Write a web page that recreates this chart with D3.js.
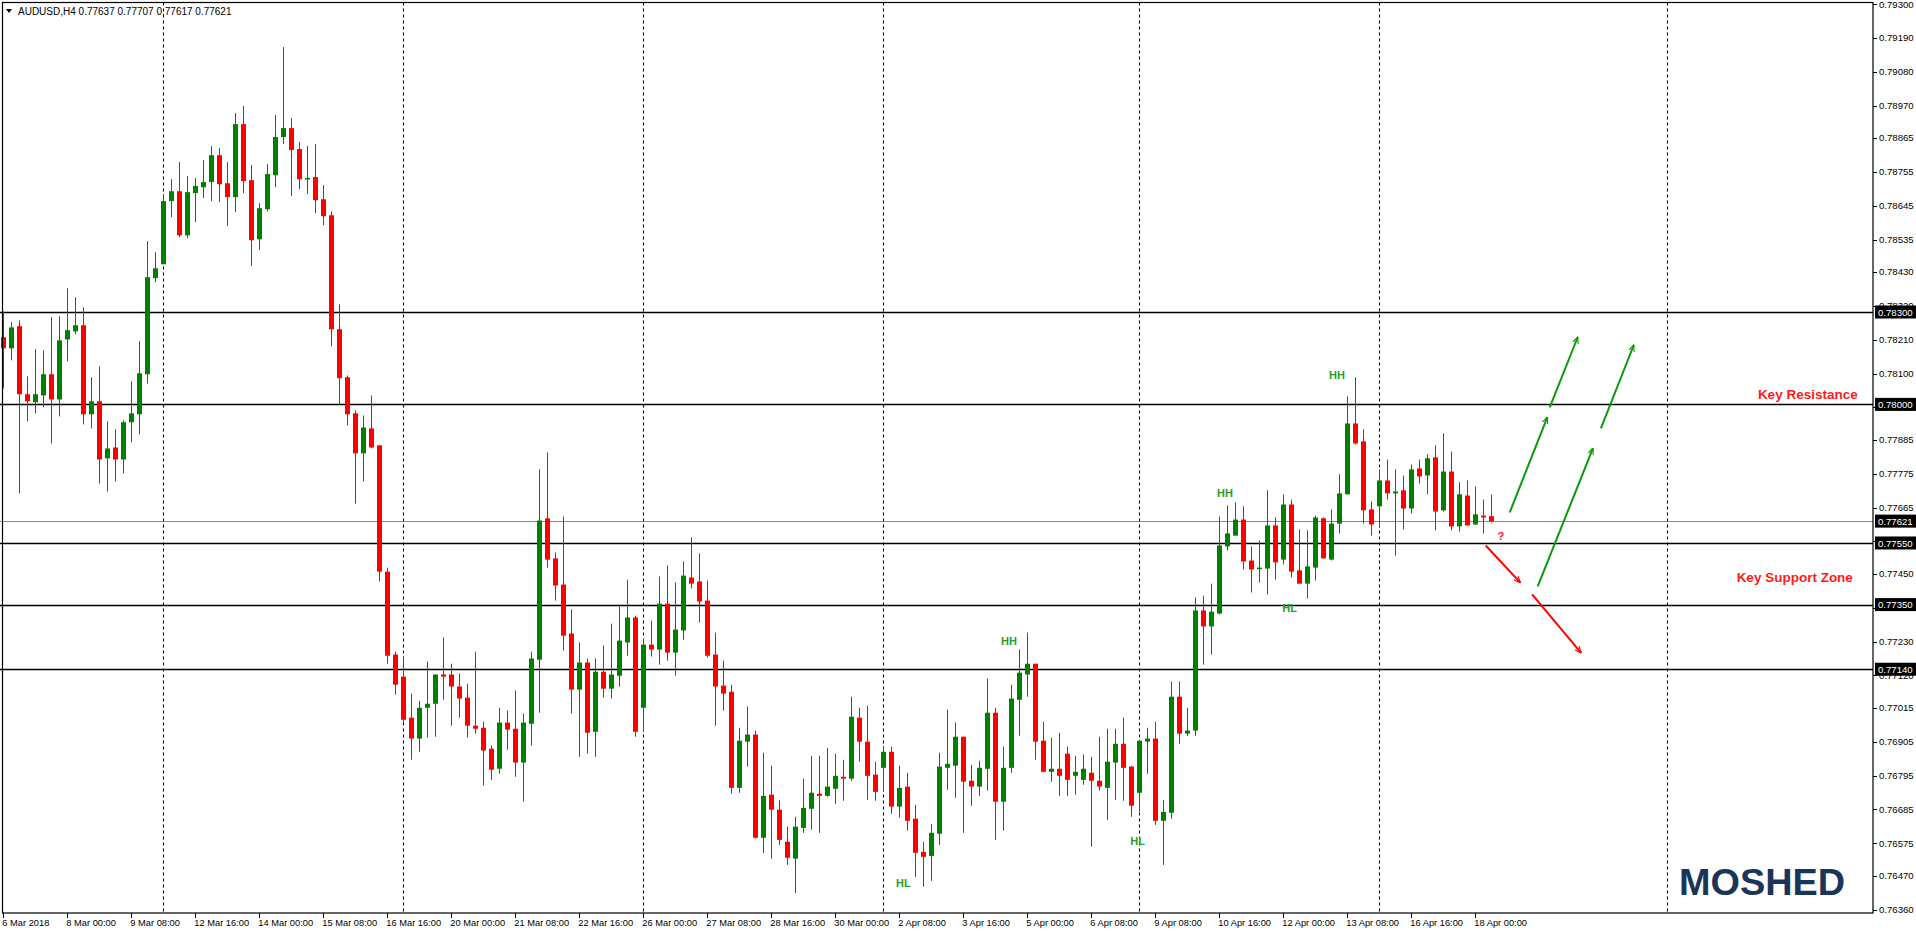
<!DOCTYPE html>
<html><head><meta charset="utf-8">
<script src="https://cdn.jsdelivr.net/npm/d3@7"></script>
<style>html,body{margin:0;padding:0;background:#fff;overflow:hidden}svg{display:block}</style>
</head><body><svg id="c" width="1916" height="934"></svg>
<script>
// prices in points (x 0.00001)
const openPts=[78218,78182,78254,78033,78007,78029,78098,78016,78211,78237,78257,77968,78010,77825,77860,77821,77942,77968,78098,78410,78455,78660,78692,78549,78686,78705,78722,78809,78718,78673,78910,78728,78536,78634,78744,78868,78897,78829,78731,78738,78666,78614,78244,78088,77971,77841,77922,77867,77457,77188,77116,76983,76915,77015,77028,77123,77123,77084,77048,76957,76950,76882,76817,76967,76947,76837,76963,77171,77630,77500,77415,77256,77074,77162,76937,77132,77077,77119,77227,77308,77015,77220,77204,77353,77194,77266,77438,77425,77363,77188,77087,77067,76755,76905,76928,76593,76733,76684,76580,76525,76625,76687,76736,76729,76752,76791,76785,76983,76905,76798,76820,76872,76694,76759,76655,76547,76534,76606,76820,76827,76921,76778,76759,76817,76999,76710,76820,77041,77123,77158,76908,76807,76817,76866,76794,76781,76804,76778,76755,76837,76898,76824,76739,76905,76915,76648,76674,77051,76931,76941,77331,77279,77321,77539,77574,77626,77493,77467,77467,77607,77496,77675,77461,77418,77470,77630,77496,77613,77708,77938,77880,77659,77669,77753,77711,77721,77662,77792,77769,77828,77656,77782,77604,77704,77610,77639,77637];
const highPts=[78302,78267,78273,78091,78179,78176,78283,78286,78377,78348,78315,78088,78124,77945,77919,77948,78075,78205,78530,78494,78683,78731,78787,78741,78735,78793,78839,78832,78787,78946,78969,78777,78653,78780,78939,79160,78930,78852,78839,78845,78712,78627,78325,78094,77981,77964,78029,77867,77470,77197,77184,77061,77038,77165,77123,77243,77158,77126,77093,77197,76970,76892,77015,77006,77071,76996,77197,77789,77844,77519,77636,77334,77227,77175,77175,77217,77288,77350,77431,77314,77240,77298,77441,77477,77422,77490,77568,77516,77428,77259,77168,77090,76950,77019,76941,76869,76827,76716,76629,76661,76785,76859,76859,76885,76866,76846,77051,77015,77022,76840,76892,76889,76827,76804,76700,76580,76638,76869,77009,76967,76921,76830,76843,77110,77015,76889,77090,77204,77259,77158,76970,76918,76934,76889,76859,76863,76856,76921,76947,76947,76983,76827,76911,76950,76970,76716,77100,77100,77015,77373,77379,77418,77636,77672,77682,77669,77539,77558,77721,77633,77708,77691,77594,77591,77639,77633,77659,77773,78026,78088,77919,77685,77789,77821,77789,77769,77805,77821,77838,77867,77906,77847,77747,77753,77734,77691,77707];
const lowPts=[78052,78143,77711,77945,77971,77990,77873,77961,78140,78228,77935,77922,77743,77717,77750,77776,77877,77903,78068,78397,78455,78608,78543,78540,78592,78670,78660,78657,78579,78624,78686,78449,78501,78627,78705,78845,78676,78699,78683,78621,78582,78189,78000,77932,77678,77750,77857,77425,77158,77058,76967,76846,76872,76918,76921,77041,76957,76983,76918,76931,76762,76781,76801,76879,76791,76710,76892,76999,77470,77363,77201,76996,76856,76866,76856,77048,77045,77084,77184,76921,76937,77181,77155,77168,77119,77236,77402,77292,77178,76957,77006,76736,76739,76824,76590,76544,76525,76570,76505,76414,76609,76619,76609,76726,76703,76713,76778,76840,76716,76713,76742,76671,76658,76616,76466,76434,76453,76570,76749,76723,76609,76697,76729,76746,76586,76616,76804,76924,77051,76846,76807,76775,76729,76729,76733,76765,76564,76746,76651,76716,76713,76661,76677,76801,76635,76505,76655,76898,76924,76924,77155,77188,77318,77526,77574,77464,77389,77422,77383,77431,77480,77438,77418,77370,77428,77500,77493,77581,77708,77870,77613,77574,77600,77691,77509,77594,77646,77743,77708,77591,77652,77591,77587,77607,77610,77581,77617];
const closePts=[78182,78250,78033,78010,78033,78098,78016,78208,78241,78257,77968,78010,77821,77857,77821,77942,77971,78101,78413,78442,78660,78692,78549,78689,78709,78722,78809,78715,78673,78910,78725,78533,78637,78748,78868,78897,78826,78731,78735,78663,78611,78244,78085,77968,77841,77925,77860,77457,77184,77090,76976,76915,77015,77028,77123,77116,77084,77045,76957,76947,76876,76814,76967,76944,76837,76967,77175,77623,77496,77412,77249,77074,77162,76934,77132,77077,77123,77233,77308,76937,77220,77204,77353,77194,77269,77444,77418,77360,77184,77084,77061,76755,76908,76928,76593,76729,76684,76586,76528,76629,76690,76739,76729,76759,76794,76785,76986,76905,76794,76742,76872,76694,76755,76648,76544,76531,76609,76824,76833,76921,76775,76759,76820,76999,76710,76820,77045,77129,77158,76905,76807,76817,76794,76781,76807,76817,76778,76759,76840,76898,76820,76697,76908,76915,76648,76677,77051,76931,76941,77331,77279,77327,77542,77581,77626,77490,77464,77470,77607,77487,77675,77457,77418,77474,77633,77500,77613,77711,77938,77873,77656,77610,77753,77711,77717,77662,77789,77766,77825,77652,77782,77604,77708,77607,77643,77633,77621];

const priceTicks=["0.79300","0.79190","0.79080","0.78970","0.78865","0.78755","0.78645","0.78535","0.78430","0.78320","0.78210","0.78100","0.77990","0.77885","0.77775","0.77665","0.77555","0.77450","0.77340","0.77230","0.77120","0.77015","0.76905","0.76795","0.76685","0.76575","0.76470","0.76360"];
const timeLabels=["6 Mar 2018","8 Mar 00:00","9 Mar 08:00","12 Mar 16:00","14 Mar 00:00","15 Mar 08:00","16 Mar 16:00","20 Mar 00:00","21 Mar 08:00","22 Mar 16:00","26 Mar 00:00","27 Mar 08:00","28 Mar 16:00","30 Mar 00:00","2 Apr 08:00","3 Apr 16:00","5 Apr 00:00","6 Apr 08:00","9 Apr 08:00","10 Apr 16:00","12 Apr 00:00","13 Apr 08:00","16 Apr 16:00","18 Apr 00:00"];
const timeLabelBar=[0,8,16,24,32,40,48,56,64,72,80,88,96,104,112,120,128,136,144,152,160,168,176,184];
const gridBars=[20,50,80,110,142,172,208];
const levelLines=[0.78300,0.78000,0.77550,0.77350,0.77140];
const currentPrice=0.77621;
const header="AUDUSD,H4  0.77637 0.77707 0.77617 0.77621";
const swingLabels=[{t:"HH",bar:125.7,p:0.77233},{t:"HH",bar:152.7,p:0.77711},{t:"HH",bar:166.7,p:0.78094},{t:"HL",bar:112.5,p:0.76447},{t:"HL",bar:141.8,p:0.76583},{t:"HL",bar:160.8,p:0.77340}];
const greenArrows=[[188.3,0.77649,193.0,0.77958],[193.3,0.77990,196.8,0.78218],[191.8,0.77409,198.7,0.77857],[199.7,0.77922,203.8,0.78192]];
const redArrows=[[185.3,0.77542,189.6,0.77422],[191.1,0.77383,197.2,0.77194]];
const zoneTexts=[{t:"Key Resistance",bar:231.8,p:0.78016},{t:"Key Support Zone",bar:231.2,p:0.77422}];

const svg=d3.select("#c");
const L=2.5,R=1873,T=2.5,B=913;
const x=d3.scaleLinear().domain([0,233.5]).range([3.3,1871.3]);
const y=d3.scaleLinear().domain([0.76360,0.79300]).range([909.5,4]);
const FONT="'Liberation Sans',Arial,sans-serif";
const bars=openPts.map((o,i)=>({o:o/1e5,h:highPts[i]/1e5,l:lowPts[i]/1e5,c:closePts[i]/1e5,i}));

const defs=svg.append("defs");
["g","r"].forEach(k=>{
  defs.append("marker").attr("id","m"+k).attr("viewBox","0 0 10 10").attr("refX",9).attr("refY",5)
   .attr("markerWidth",7).attr("markerHeight",7).attr("markerUnits","userSpaceOnUse").attr("orient","auto")
   .append("path").attr("d","M0,1 L10,5 L0,9").attr("fill","none").attr("stroke",k=="g"?"#0a9a0a":"#ff0000").attr("stroke-width",1.6);
});

// grid
svg.append("g").selectAll("line").data(gridBars).join("line")
 .attr("x1",d=>Math.round(x(d))+0.5).attr("x2",d=>Math.round(x(d))+0.5).attr("y1",T).attr("y2",B)
 .attr("stroke","#000").attr("stroke-dasharray","3,3");
// level lines
svg.append("g").selectAll("line").data(levelLines).join("line")
 .attr("x1",0).attr("x2",R).attr("y1",d=>Math.round(y(d))+0.5).attr("y2",d=>Math.round(y(d))+0.5)
 .attr("stroke","#000").attr("stroke-width",1.3);
svg.append("line").attr("x1",0).attr("x2",R).attr("y1",Math.round(y(currentPrice))+0.5).attr("y2",Math.round(y(currentPrice))+0.5).attr("stroke","#7a8a9a");

// candles
const cg=svg.append("g");
cg.selectAll("line").data(bars).join("line")
 .attr("x1",d=>Math.round(x(d.i))+0.5).attr("x2",d=>Math.round(x(d.i))+0.5)
 .attr("y1",d=>y(d.h)).attr("y2",d=>y(d.l))
 .attr("stroke",d=>d.c>=d.o?"#008000":"#ff0000").attr("stroke-width",1);
cg.selectAll("rect").data(bars).join("rect")
 .attr("x",d=>Math.round(x(d.i))-2).attr("width",5)
 .attr("y",d=>y(Math.max(d.o,d.c))).attr("height",d=>Math.max(1.5,Math.abs(y(d.o)-y(d.c))))
 .attr("fill",d=>d.c>=d.o?"#008000":"#ff0000");

// frame
svg.append("rect").attr("x",L).attr("y",T).attr("width",R-L).attr("height",B-T).attr("fill","none").attr("stroke","#000").attr("stroke-width",1.2);

// right axis
const ra=svg.append("g");
ra.selectAll("line").data(priceTicks).join("line").attr("x1",R).attr("x2",R+4)
 .attr("y1",d=>Math.round(y(+d))+0.5).attr("y2",d=>Math.round(y(+d))+0.5).attr("stroke","#000");
ra.selectAll("text").data(priceTicks).join("text").attr("x",R+6).attr("y",d=>y(+d)+3.5)
 .attr("font-family",FONT).attr("font-size",9.6).attr("fill","#000").text(d=>d);
const boxes=levelLines.concat([currentPrice]);
const bg=svg.append("g");
bg.selectAll("rect").data(boxes).join("rect").attr("x",R+2).attr("width",43).attr("y",d=>y(d)-6.5).attr("height",13).attr("fill","#000");
bg.selectAll("text").data(boxes).join("text").attr("x",R+5).attr("y",d=>y(d)+3.8)
 .attr("font-family",FONT).attr("font-size",9.6).attr("fill","#fff").text(d=>d.toFixed(5));

// bottom axis
const ba=svg.append("g");
ba.selectAll("line").data(timeLabelBar).join("line").attr("x1",d=>Math.round(x(d))+0.5).attr("x2",d=>Math.round(x(d))+0.5)
 .attr("y1",B).attr("y2",B+5).attr("stroke","#000");
ba.selectAll("text").data(timeLabels).join("text").attr("x",(d,i)=>x(timeLabelBar[i])-1).attr("y",B+13)
 .attr("font-family",FONT).attr("font-size",9.3).attr("fill","#000").text(d=>d);

// header
svg.append("path").attr("d","M6,9 L12,9 L9,13 Z").attr("fill","#000");
svg.append("text").attr("x",18).attr("y",14.5).attr("font-family",FONT).attr("font-size",10).attr("fill","#000").text(header);

// annotations
svg.append("g").selectAll("line").data(greenArrows).join("line")
 .attr("x1",d=>x(d[0])).attr("y1",d=>y(d[1])).attr("x2",d=>x(d[2])).attr("y2",d=>y(d[3]))
 .attr("stroke","#0a9a0a").attr("stroke-width",2).attr("marker-end","url(#mg)");
svg.append("g").selectAll("line").data(redArrows).join("line")
 .attr("x1",d=>x(d[0])).attr("y1",d=>y(d[1])).attr("x2",d=>x(d[2])).attr("y2",d=>y(d[3]))
 .attr("stroke","#ff0000").attr("stroke-width",2).attr("marker-end","url(#mr)");
svg.append("g").selectAll("text").data(swingLabels).join("text")
 .attr("x",d=>x(d.bar)).attr("y",d=>y(d.p)+4).attr("text-anchor","middle")
 .attr("font-family",FONT).attr("font-weight","bold").attr("font-size",11).attr("fill","#2a9d2a").text(d=>d.t);
svg.append("text").attr("x",x(187.2)).attr("y",y(0.77574)+4).attr("text-anchor","middle")
 .attr("font-family",FONT).attr("font-weight","bold").attr("font-size",11).attr("fill","#ff2020").text("?");
svg.append("g").selectAll("text").data(zoneTexts).join("text")
 .attr("x",d=>x(d.bar)).attr("y",d=>y(d.p)).attr("text-anchor","end")
 .attr("font-family",FONT).attr("font-weight","bold").attr("font-size",13.5).attr("fill","#ff1a1a").text(d=>d.t);
svg.append("text").attr("x",1679).attr("y",895).attr("textLength",166).attr("lengthAdjust","spacingAndGlyphs")
 .attr("font-family",FONT).attr("font-weight","bold").attr("font-size",37).attr("fill","#1b355a").text("MOSHED");
</script></body></html>
